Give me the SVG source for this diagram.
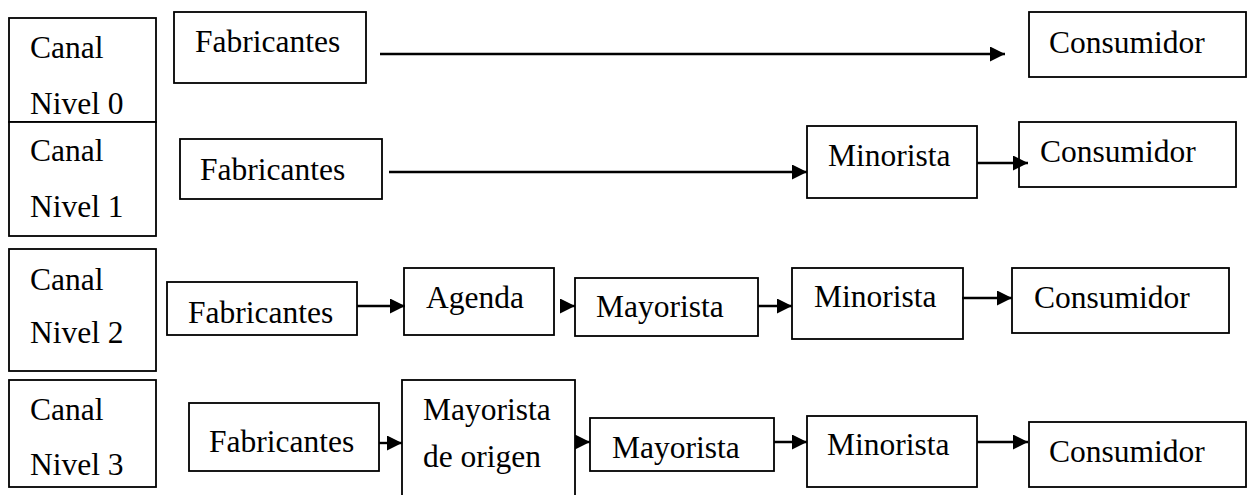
<svg xmlns="http://www.w3.org/2000/svg" width="1249" height="495" viewBox="0 0 1249 495">
<style>
rect{fill:#fff;stroke:#000;stroke-width:1.8}
text{font-family:"Liberation Serif","Times New Roman",serif;font-size:31.5px;fill:#000}
.c line{stroke:#000;stroke-width:2.4}
</style>
<defs>
<marker id="ah" markerUnits="userSpaceOnUse" markerWidth="16" markerHeight="16" refX="15" refY="7.5" orient="auto">
<path d="M0,0 L15,7.5 L0,15 z" fill="#000"/>
</marker>
</defs>
<rect width="1249" height="495" style="stroke:none"/>
<!-- Row 0 -->
<g id="canal0"><rect x="9" y="18" width="147" height="104"/><text x="30" y="58">Canal</text><text x="30" y="114">Nivel 0</text></g>
<g id="fab0"><rect x="174" y="12" width="192" height="71"/><text x="195" y="52">Fabricantes</text></g>
<g id="con0"><rect x="1029" y="12" width="217" height="65"/><text x="1049" y="53">Consumidor</text></g>
<!-- Row 1 -->
<g id="canal1"><rect x="9" y="122" width="147" height="114"/><text x="30" y="161">Canal</text><text x="30" y="217">Nivel 1</text></g>
<g id="fab1"><rect x="180" y="139" width="202" height="60"/><text x="200" y="180">Fabricantes</text></g>
<g id="min1"><rect x="807" y="126" width="170" height="72"/><text x="828" y="166">Minorista</text></g>
<g id="con1"><rect x="1019" y="122" width="217" height="65"/><text x="1040" y="162">Consumidor</text></g>
<!-- Row 2 -->
<g id="canal2"><rect x="9" y="249" width="147" height="122"/><text x="30" y="290">Canal</text><text x="30" y="343">Nivel 2</text></g>
<g id="fab2"><rect x="167" y="282" width="190" height="53"/><text x="188" y="323">Fabricantes</text></g>
<g id="age2"><rect x="404" y="268" width="150" height="67"/><text x="426" y="308">Agenda</text></g>
<g id="may2"><rect x="575" y="278" width="183" height="58"/><text x="596" y="317">Mayorista</text></g>
<g id="min2"><rect x="792" y="268" width="171" height="71"/><text x="814" y="307">Minorista</text></g>
<g id="con2"><rect x="1012" y="268" width="217" height="65"/><text x="1034" y="308">Consumidor</text></g>
<!-- Row 3 -->
<g id="canal3"><rect x="9" y="380" width="147" height="107"/><text x="30" y="420">Canal</text><text x="30" y="475">Nivel 3</text></g>
<g id="fab3"><rect x="189" y="403" width="190" height="68"/><text x="209" y="452">Fabricantes</text></g>
<g id="mayo3"><rect x="402" y="380" width="173" height="120"/><text x="423" y="420">Mayorista</text><text x="423" y="467">de origen</text></g>
<g id="may3"><rect x="590" y="418" width="184" height="53"/><text x="612" y="458">Mayorista</text></g>
<g id="min3"><rect x="807" y="416" width="170" height="71"/><text x="827" y="455">Minorista</text></g>
<g id="con3"><rect x="1029" y="422" width="217" height="65"/><text x="1049" y="462">Consumidor</text></g>
<g id="connectors" class="c">
<line x1="380" y1="54" x2="1005" y2="54" marker-end="url(#ah)"/>
<line x1="389" y1="172" x2="807" y2="172" marker-end="url(#ah)"/>
<line x1="977" y1="163" x2="1028" y2="163" marker-end="url(#ah)"/>
<line x1="357" y1="306" x2="405" y2="306" marker-end="url(#ah)"/>
<line x1="561" y1="306" x2="575" y2="306" marker-end="url(#ah)"/>
<line x1="758" y1="306" x2="792" y2="306" marker-end="url(#ah)"/>
<line x1="962" y1="298" x2="1012" y2="298" marker-end="url(#ah)"/>
<line x1="379" y1="443" x2="402" y2="443" marker-end="url(#ah)"/>
<line x1="576" y1="442" x2="590" y2="442" marker-end="url(#ah)"/>
<line x1="774" y1="442" x2="807" y2="442" marker-end="url(#ah)"/>
<line x1="977" y1="442" x2="1028" y2="442" marker-end="url(#ah)"/>
</g>
</svg>
